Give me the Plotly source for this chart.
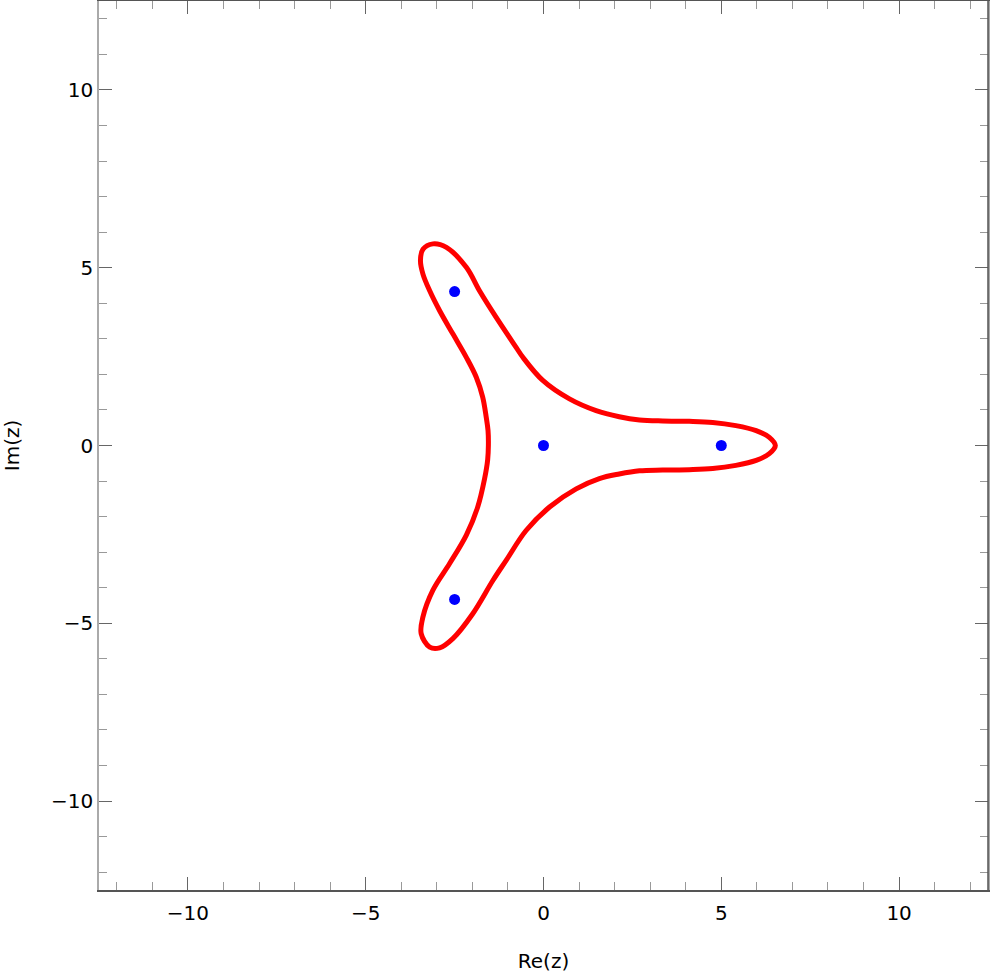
import plotly.graph_objects as go

# points on the red closed curve (Re, Im)
curve_re = [6.52, 6.35, 5.98, 5.41, 4.76, 4.10, 3.35, 2.70, 2.13, 1.48, 0.73, -0.02,
            -0.58, -0.77, -1.33, -1.80, -2.17, -2.73, -3.11, -3.39, -3.46,
            -3.39, -3.20, -2.92, -2.55, -2.17, -1.89, -1.71, -1.61, -1.56, -1.55,
            -1.57, -1.66, -1.85, -2.17, -2.64, -3.11, -3.39, -3.44, -3.20, -2.92,
            -2.55, -1.99, -1.42, -1.05, -0.49, 0.17, 0.92, 1.57, 2.13, 2.70, 3.35,
            4.10, 4.76, 5.41, 5.98, 6.35, 6.52]
curve_im = [0.00, 0.23, 0.42, 0.56, 0.65, 0.68, 0.69, 0.72, 0.81, 0.98, 1.31, 1.83,
            2.48, 2.76, 3.60, 4.35, 5.01, 5.57, 5.67, 5.52, 5.20,
            4.82, 4.35, 3.79, 3.14, 2.48, 1.92, 1.36, 0.79, 0.42, 0.00,
            -0.40, -0.95, -1.73, -2.52, -3.32, -4.07, -4.82, -5.29, -5.67, -5.69,
            -5.43, -4.73, -3.79, -3.23, -2.39, -1.73, -1.22, -0.93, -0.80, -0.71, -0.69,
            -0.68, -0.65, -0.56, -0.42, -0.23, 0.00]

# blue points
pts_re = [0, 5, -2.5, -2.5]
pts_im = [0, 0, 4.33, -4.33]

tick_vals = [-10, -5, 0, 5, 10]
tick_text = ["\u221210", "\u22125", "0", "5", "10"]

fig = go.Figure()

fig.add_trace(go.Scatter(
    x=curve_re, y=curve_im,
    mode='lines',
    line=dict(color='#ff0000', width=5, shape='spline', smoothing=1.0),
    hoverinfo='skip'
))

fig.add_trace(go.Scatter(
    x=pts_re, y=pts_im,
    mode='markers',
    marker=dict(color='#0000ff', size=11)
))

axis_common = dict(
    tickvals=tick_vals,
    ticktext=tick_text,
    ticks='inside',
    ticklen=13,
    tickwidth=1,
    tickcolor='#666666',
    minor=dict(dtick=1, tick0=0, ticks='inside', ticklen=8, tickcolor='#999999', showgrid=False),
    showgrid=False,
    zeroline=False,
    showline=True,
    linewidth=1.5,
    mirror='allticks',
    range=[-12.5, 12.5],
    automargin=False,
    tickfont=dict(family='DejaVu Sans', size=20, color='black'),
)

fig.update_xaxes(**axis_common, linecolor='#555555', ticklabelstandoff=4,
                 title=dict(text='Re(z)', font=dict(family='DejaVu Sans', size=20, color='black'), standoff=30))
fig.update_yaxes(**axis_common, linecolor='#aaaaaa', ticklabelstandoff=0,
                 title=dict(text='Im(z)', font=dict(family='DejaVu Sans', size=20, color='black'), standoff=26))

# right frame edge is dark in the original
fig.add_shape(type='line', xref='paper', yref='paper', x0=1, x1=1, y0=0, y1=1,
              line=dict(color='#555555', width=1.5))

fig.update_layout(
    width=996, height=977,
    margin=dict(l=99, r=8, t=1, b=87),
    plot_bgcolor='white',
    paper_bgcolor='white',
    showlegend=False,
)

fig.write_html("out.html", config={'displayModeBar': False},
               post_script="document.body.style.margin='0px';")
